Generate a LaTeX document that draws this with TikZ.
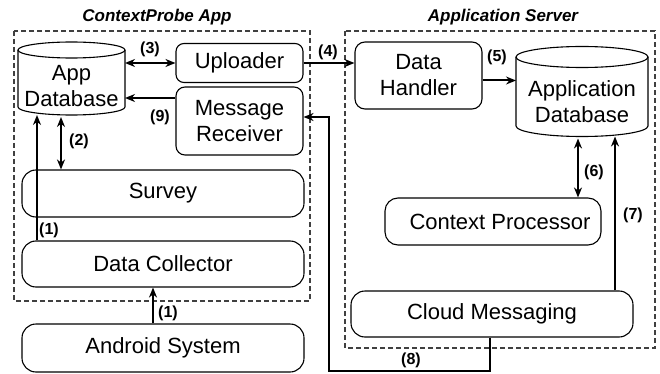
\documentclass[tikz,border=0pt]{standalone}
\usepackage{fontspec}
\setmainfont{Liberation Sans}
\usetikzlibrary{arrows.meta,calc}
\begin{document}
\begin{tikzpicture}[x=1pt,y=-1pt,
  box/.style={draw,line width=1.1pt,rounded corners=#1,inner sep=0pt,align=center,
    font=\fontsize{22}{26}\selectfont},
  box/.default=9pt,
  shapebox/.style={inner sep=0pt,outer sep=0pt},
  grp/.style={draw=black!75,line width=1.1pt,dash pattern=on 5pt off 3pt},
  title/.style={font=\fontsize{17}{20}\selectfont\bfseries\itshape},
  lab/.style={font=\fontsize{16}{18}\selectfont\bfseries,inner sep=0pt},
  arr/.style={line width=2pt,-{Stealth[length=10pt,width=8pt]}},
  dbl/.style={line width=2pt,{Stealth[length=10pt,width=8pt]}-{Stealth[length=10pt,width=8pt]}},
  dbtext/.style={align=center,inner sep=0pt,font=\fontsize{22}{26}\selectfont}
]
\useasboundingbox (0,0) rectangle (660,374);

% group frames
\draw[grp] (14,31) rectangle (310,301);
\draw[grp] (345,31) rectangle (655,348);
\node[title] (t1) at (157,17) {ContextProbe App};
\node[title] (t2) at (503,17) {Application Server};

% App Database cylinder
\draw[line width=1.1pt,fill=white] (18,50) -- (18,107)
  arc[start angle=180,end angle=360,x radius=53.5pt,y radius=8pt] -- (125,50);
\draw[line width=1.1pt] (71.5,50) ellipse[x radius=53.5pt,y radius=8pt];
\node[shapebox,minimum width=107pt,minimum height=73pt] (appdbshape) at (71.5,78.5) {};
\node[dbtext] (appdb) at (71.5,86) {App\\Database};

% Application Database cylinder
\draw[line width=1.1pt,fill=white] (516,57) -- (516,126)
  arc[start angle=180,end angle=360,x radius=66pt,y radius=10.5pt] -- (648,57);
\draw[line width=1.1pt] (582,57) ellipse[x radius=66pt,y radius=10.5pt];
\node[shapebox,minimum width=132pt,minimum height=90pt] (serverdbshape) at (582,91.5) {};
\node[dbtext] (serverdb) at (582,102) {Application\\Database};

% boxes
\node[box=8pt,minimum width=127pt,minimum height=39pt] (uploader) at (239.5,63) {Uploader};
\node[box=9pt,minimum width=127pt,minimum height=68pt] (receiver) at (239.5,121) {Message\\Receiver};
\node[box=14pt,minimum width=282pt,minimum height=47pt] (survey) at (163,193.5) {Survey};
\node[box=14pt,minimum width=282pt,minimum height=46pt] (collector) at (163,264) {Data Collector};
\node[box=14pt,minimum width=282pt,minimum height=48pt] (android) at (163,348) {Android System};
\node[box=10pt,minimum width=127pt,minimum height=67pt] (handler) at (418.5,75.5) {Data\\Handler};
\node[box=13pt,minimum width=216pt,minimum height=47pt] (context) at (493,221.5) {\hspace*{14pt}Context Processor};
\node[box=14pt,minimum width=282pt,minimum height=46pt] (cloud) at (492,314) {Cloud Messaging};

% connectors
\draw[dbl] (uploader.west) -- (uploader.west -| appdbshape.east);
\draw[arr] ([yshift=23pt]receiver.west) -- ([yshift=23pt]receiver.west -| appdbshape.east);
\draw[dbl] ([xshift=-10.5pt,yshift=-2pt]appdbshape.south) -- ([xshift=-10.5pt]appdbshape.south |- survey.north);
\draw[arr] ([xshift=-126pt]collector.north) -- ([xshift=-126pt]collector.north |- appdbshape.south);
\draw[arr] ([xshift=-10pt]android.north) -- ([xshift=-10pt]android.north |- collector.south);
\draw[arr] (uploader.east) -- (uploader.east -| handler.west);
\draw[arr] ([yshift=-5pt]handler.east) -- ([yshift=-5pt]handler.east -| serverdbshape.west);
\draw[dbl] ([xshift=-4pt,yshift=-2pt]serverdbshape.south) -- ([xshift=-4pt]serverdbshape.south |- context.north);
\draw[arr] ([xshift=123pt]cloud.north) -- ([xshift=123pt]cloud.north |- serverdbshape.south);
\coordinate (k8) at (329,371);
\draw[arr,line cap=butt] ([xshift=-2pt]cloud.south) |- (k8) |- ([yshift=4pt]receiver.east);

% labels
\node[lab] (l3) at (150,49) {(3)};
\node[lab] (l9) at (160,117) {(9)};
\node[lab] (l2) at (79,141) {(2)};
\node[lab] (l1a) at (49,230) {(1)};
\node[lab] (l1b) at (168,313) {(1)};
\node[lab] (l4) at (328,52) {(4)};
\node[lab] (l5) at (497,57) {(5)};
\node[lab] (l6) at (594,172) {(6)};
\node[lab] (l7) at (633,215) {(7)};
\node[lab] (l8) at (411,360) {(8)};
\end{tikzpicture}
\end{document}
